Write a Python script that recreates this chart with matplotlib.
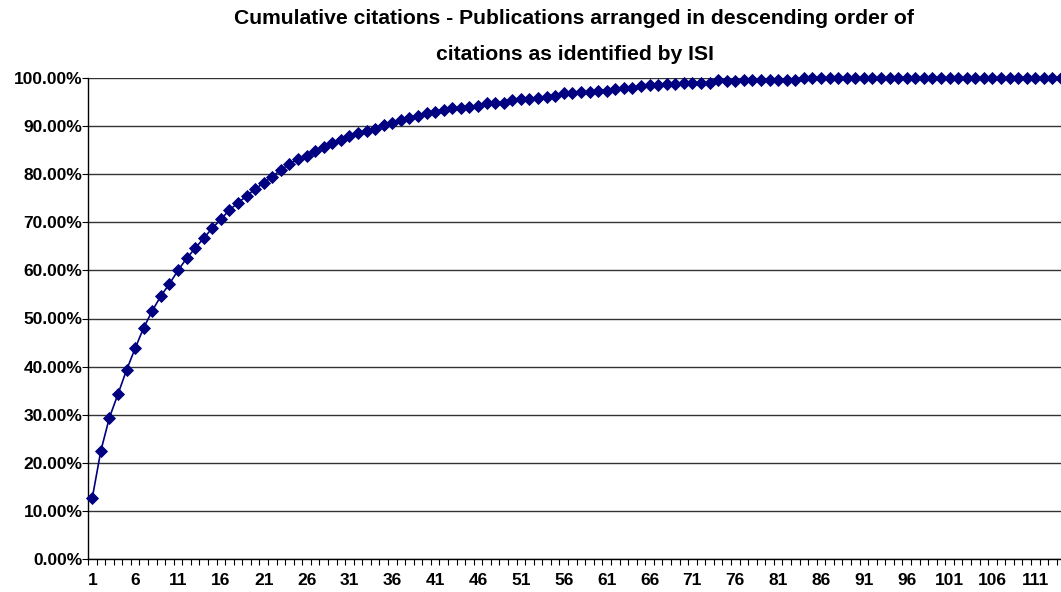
#!/usr/bin/python
# Grafico de citas acumuladas
import matplotlib
matplotlib.use('Agg')
import matplotlib.pyplot as plt
from matplotlib.ticker import FuncFormatter

plt.rcParams['font.family'] = ['Liberation Sans', 'DejaVu Sans']

TITULO = 'Cumulative citations - Publications arranged in descending order of\ncitations as identified by ISI'

# porcentaje acumulado de citas (en %), una entrada por publicacion
acumulado = [
    12.7, 22.5, 29.4, 34.3, 39.3, 43.8, 48.1, 51.6, 54.7, 57.2,
    60.0, 62.5, 64.6, 66.7, 68.8, 70.6, 72.6, 74.0, 75.5, 76.9,
    78.2, 79.5, 80.9, 82.1, 83.2, 83.8, 84.9, 85.7, 86.4, 87.1,
    87.9, 88.6, 89.0, 89.5, 90.2, 90.7, 91.3, 91.6, 92.1, 92.7,
    93.0, 93.3, 93.7, 93.8, 94.0, 94.2, 94.7, 94.9, 94.9, 95.4,
    95.6, 95.6, 95.9, 96.0, 96.3, 96.8, 96.8, 97.0, 97.0, 97.4,
    97.4, 97.7, 97.9, 97.9, 98.3, 98.6, 98.6, 98.8, 98.8, 99.0,
    99.0, 99.0, 99.0, 99.5, 99.4, 99.4, 99.6, 99.6, 99.6, 99.6,
    99.6, 99.6, 99.6, 100.0, 100.0, 100.0, 100.0, 100.0, 100.0, 100.0,
    100.0, 100.0, 100.0, 100.0, 100.0, 100.0, 100.0, 100.0, 100.0, 100.0,
    100.0, 100.0, 100.0, 100.0, 100.0, 100.0, 100.0, 100.0, 100.0, 100.0,
    100.0, 100.0, 100.0, 100.0,
]
publicaciones = list(range(1, len(acumulado) + 1))
etiquetas_x = list(range(1, len(acumulado) + 1, 5))
etiquetas_y = [i / 10 for i in range(11)]

W, H = 1061, 592
fig = plt.figure(figsize=(W / 100, H / 100), dpi=100)
ax = fig.add_axes([88 / W, (H - 559) / H, (W - 88) / W, (559 - 78) / H])

valores = [v / 100 for v in acumulado]
ax.plot(publicaciones, valores, color='#000080', lw=1.2, marker='D',
        ms=5.8, mfc='#000080', mec='#000080', mew=0.6, clip_on=False, zorder=3)

ax.set_xlim(0.5, 114.0)
ax.set_ylim(0, 1)

ax.set_yticks(etiquetas_y)
ax.yaxis.set_major_formatter(FuncFormatter(lambda v, p: '{:.2f}%'.format(v * 100)))
ax.grid(axis='y', color='#333333', lw=1.0)
ax.set_axisbelow(True)

ax.set_xticks(etiquetas_x)
ax.set_xticks([p + 0.5 for p in publicaciones[:-1]] + [0.5], minor=True)
ax.tick_params(axis='x', which='major', length=0, pad=10)
ax.tick_params(axis='x', which='minor', length=4, width=0.8, direction='out')
ax.tick_params(axis='y', which='major', length=4, width=0.8, direction='out', pad=0)

for lab in ax.get_xticklabels() + ax.get_yticklabels():
    lab.set_fontweight('bold')
    lab.set_fontsize(12.5)

for s in ['top', 'right']:
    ax.spines[s].set_visible(False)
for s in ['left', 'bottom']:
    ax.spines[s].set_color('black')
    ax.spines[s].set_linewidth(1.0)

fig.text((88 + W) / 2 / W, 1 - 9 / H, TITULO, ha='center', va='top',
         fontsize=15.2, fontweight='bold', linespacing=2.15)

plt.savefig('out.png', dpi=100)
plt.close()
